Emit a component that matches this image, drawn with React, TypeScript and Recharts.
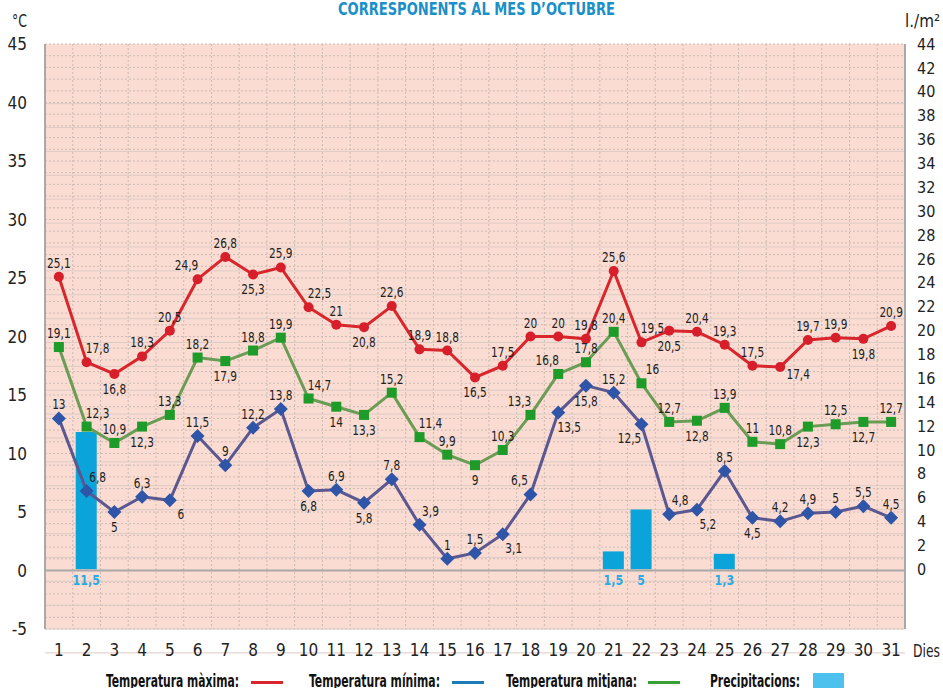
import {
  ComposedChart,
  Line,
  Bar,
  XAxis,
  YAxis,
  CartesianGrid,
  ReferenceLine,
  LabelList,
} from 'recharts'

const days = Array.from({ length: 31 }, (_, i) => i + 1)

const tempMax = [
  25.1, 17.8, 16.8, 18.3, 20.5, 24.9, 26.8, 25.3, 25.9, 22.5, 21, 20.8, 22.6, 18.9, 18.8, 16.5,
  17.5, 20, 20, 19.8, 25.6, 19.5, 20.5, 20.4, 19.3, 17.5, 17.4, 19.7, 19.9, 19.8, 20.9,
]
const tempMin = [
  13, 6.8, 5, 6.3, 6, 11.5, 9, 12.2, 13.8, 6.8, 6.9, 5.8, 7.8, 3.9, 1, 1.5, 3.1, 6.5, 13.5, 15.8,
  15.2, 12.5, 4.8, 5.2, 8.5, 4.5, 4.2, 4.9, 5, 5.5, 4.5,
]
const tempMid = [
  19.1, 12.3, 10.9, 12.3, 13.3, 18.2, 17.9, 18.8, 19.9, 14.7, 14, 13.3, 15.2, 11.4, 9.9, 9, 10.3,
  13.3, 16.8, 17.8, 20.4, 16, 12.7, 12.8, 13.9, 11, 10.8, 12.3, 12.5, 12.7, 12.7,
]
const precip: (number | null)[] = [
  null, 11.5, null, null, null, null, null, null, null, null, null, null, null, null, null, null,
  null, null, null, null, 1.5, 5, null, null, 1.3, null, null, null, null, null, null,
]

const leftTicks = [-5, 0, 5, 10, 15, 20, 25, 30, 35, 40, 45]
const rightTicks = Array.from({ length: 23 }, (_, i) => i * 2)

// where each value label sits relative to its point
const maxPos = ['t','tr','b','t','t','tl','t','b','t','tr','t','b','t','t','t','b','t','t','t','t','t','tr','b','t','t','t','r','t','t','b','t']
const minPos = ['t','tr','b','t','br','t','t','t','t','b','t','b','t','tr','t','t','br','tl','br','b','t','bl','tr','br','t','b','t','t','t','t','t']
const midPos = ['t','tr','t','b','t','t','b','t','t','tr','b','b','t','tr','t','b','t','tl','tl','t','t','tr','t','b','t','t','t','b','t','b','t']

const data = days.map((d, i) => ({
  day: d,
  max: tempMax[i],
  min: tempMin[i],
  mid: tempMid[i],
  rain: precip[i],
}))

const FONT = "'DejaVu Sans Condensed', 'DejaVu Sans', sans-serif"
const fmt = (v: number) => String(v).replace('.', ',')

const offsets: Record<string, [number, number]> = {
  t: [0, -9],
  b: [0, 20],
  tr: [11, -9],
  tl: [-11, -9],
  br: [11, 19],
  bl: [-12, 19],
  r: [18, 12],
}

function makeLabel(pos: string[]) {
  return (props: any) => {
    const { x, y, value, index } = props
    const [dx, dy] = offsets[pos[index]] || offsets.t
    return (
      <text
        transform={`translate(${x + dx} ${y + dy}) scale(0.84 1)`}
        textAnchor="middle"
        fontSize={14}
        fontFamily={FONT}
        fill="#222"
      >
        {fmt(value)}
      </text>
    )
  }
}

function rainLabel(props: any) {
  const { x, y, width, height, value } = props
  if (value == null) return null
  return (
    <text
      transform={`translate(${x + width / 2} ${y + height + 16}) scale(0.85 1)`}
      textAnchor="middle"
      fontSize={14.5}
      fontWeight={700}
      fontFamily={FONT}
      fill="#29abe2"
    >
      {fmt(value)}
    </text>
  )
}

const circleDot = (p: any) => (
  <circle key={`c${p.index}`} cx={p.cx} cy={p.cy} r={5} fill="#d61f2a" />
)
const squareDot = (p: any) => (
  <rect key={`s${p.index}`} x={p.cx - 5} y={p.cy - 5} width={10} height={10} fill="#1e9b28" />
)
const diamondDot = (p: any) => (
  <polygon
    key={`m${p.index}`}
    points={`${p.cx},${p.cy - 7} ${p.cx + 7},${p.cy} ${p.cx},${p.cy + 7} ${p.cx - 7},${p.cy}`}
    fill="#2f55a8"
  />
)

const legendItems = [
  { label: 'Temperatura màxima:', color: '#d8262c', x: 106, w: 133, lineX: 251 },
  { label: 'Temperatura mínima:', color: '#1a7db8', x: 309, w: 131, lineX: 452 },
  { label: 'Temperatura mitjana:', color: '#3a9e34', x: 506, w: 131, lineX: 648 },
]

export default function App() {
  return (
    <div style={{ position: 'absolute', left: 0, top: 0, width: 943, height: 688, overflow: 'hidden', background: '#fff' }}>
      <ComposedChart
        width={943}
        height={688}
        data={data}
        margin={{ top: 44, right: 8, bottom: 29, left: 5 }}
        barCategoryGap={0}
      >
        <CartesianGrid
          yAxisId="left"
          fill="#fadcd2"
          fillOpacity={1}
          stroke="#ccbab4"
          strokeDasharray="2 2"
          horizontalCoordinatesGenerator={({ offset }: any) =>
            Array.from({ length: 51 }, (_, i) => offset.top + (i / 50) * offset.height)
          }
          verticalCoordinatesGenerator={({ offset }: any) =>
            Array.from({ length: 30 }, (_, i) => offset.left + ((i + 1) / 31) * offset.width)
          }
        />
        <CartesianGrid
          yAxisId="right"
          stroke="#ddcbc5"
          vertical={false}
          horizontalCoordinatesGenerator={({ offset }: any) =>
            Array.from({ length: 24 }, (_, i) => offset.top + ((5 + i * 2) / 49) * offset.height)
          }
        />
        <XAxis
          dataKey="day"
          height={30}
          tickLine={false}
          axisLine={false}
          tickSize={0}
          tickMargin={15}
          interval={0}
          tick={{ fontSize: 17, fill: '#222', fontFamily: FONT }}
        />
        <YAxis
          yAxisId="left"
          domain={[-5, 45]}
          ticks={leftTicks}
          width={40}
          tickLine={false}
          tickSize={0}
          tickMargin={18}
          axisLine={{ stroke: '#a9a9a9', strokeWidth: 2 }}
          tick={{ fontSize: 17, fill: '#222', fontFamily: FONT }}
          allowDataOverflow
        />
        <YAxis
          yAxisId="right"
          orientation="right"
          domain={[-5, 44]}
          ticks={rightTicks}
          width={30}
          tickLine={false}
          tickSize={0}
          tickMargin={12}
          interval={0}
          axisLine={{ stroke: '#a9a9a9', strokeWidth: 2 }}
          tick={{ fontSize: 16, fill: '#222', fontFamily: FONT }}
          allowDataOverflow
        />
        <ReferenceLine yAxisId="left" y={0} stroke="#a8a8a8" strokeWidth={2} />
        <Bar yAxisId="right" dataKey="rain" barSize={21} fill="#0aa3da" isAnimationActive={false}>
          <LabelList dataKey="rain" content={rainLabel} />
        </Bar>
        <Line
          yAxisId="left"
          dataKey="mid"
          type="linear"
          stroke="#6a9c55"
          strokeWidth={3}
          dot={squareDot}
          activeDot={false}
          isAnimationActive={false}
        >
          <LabelList dataKey="mid" content={makeLabel(midPos)} />
        </Line>
        <Line
          yAxisId="left"
          dataKey="min"
          type="linear"
          stroke="#5b5790"
          strokeWidth={3}
          dot={diamondDot}
          activeDot={false}
          isAnimationActive={false}
        >
          <LabelList dataKey="min" content={makeLabel(minPos)} />
        </Line>
        <Line
          yAxisId="left"
          dataKey="max"
          type="linear"
          stroke="#d8262c"
          strokeWidth={3}
          dot={circleDot}
          activeDot={false}
          isAnimationActive={false}
        >
          <LabelList dataKey="max" content={makeLabel(maxPos)} />
        </Line>
      </ComposedChart>

      <svg
        width={943}
        height={688}
        style={{ position: 'absolute', left: 0, top: 0, pointerEvents: 'none' }}
        fontFamily={FONT}
      >
        <text x={476.5} y={15} textAnchor="middle" fontSize={17} fontWeight={700} fill="#1b8fc7" textLength={277} lengthAdjust="spacingAndGlyphs">
          CORRESPONENTS AL MES D’OCTUBRE
        </text>
        <text x={12} y={27} fontSize={17} fill="#222" textLength={15} lengthAdjust="spacingAndGlyphs">°C</text>
        <text x={905} y={27} fontSize={17} fill="#222" textLength={35} lengthAdjust="spacingAndGlyphs">l./m²</text>
        <text x={913} y={657} fontSize={17} fill="#222" textLength={27} lengthAdjust="spacingAndGlyphs">Dies</text>
        {legendItems.map((it) => (
          <g key={it.label}>
            <text x={it.x} y={687} fontSize={17} fontWeight={700} fill="#111" textLength={it.w} lengthAdjust="spacingAndGlyphs">
              {it.label}
            </text>
            <rect x={it.lineX} y={681} width={32} height={3} fill={it.color} />
          </g>
        ))}
        <text x={710} y={687} fontSize={17} fontWeight={700} fill="#111" textLength={90} lengthAdjust="spacingAndGlyphs">
          Precipitacions:
        </text>
        <rect x={813} y={673} width={31} height={15} fill="#4dc1ee" />
      </svg>
    </div>
  )
}
